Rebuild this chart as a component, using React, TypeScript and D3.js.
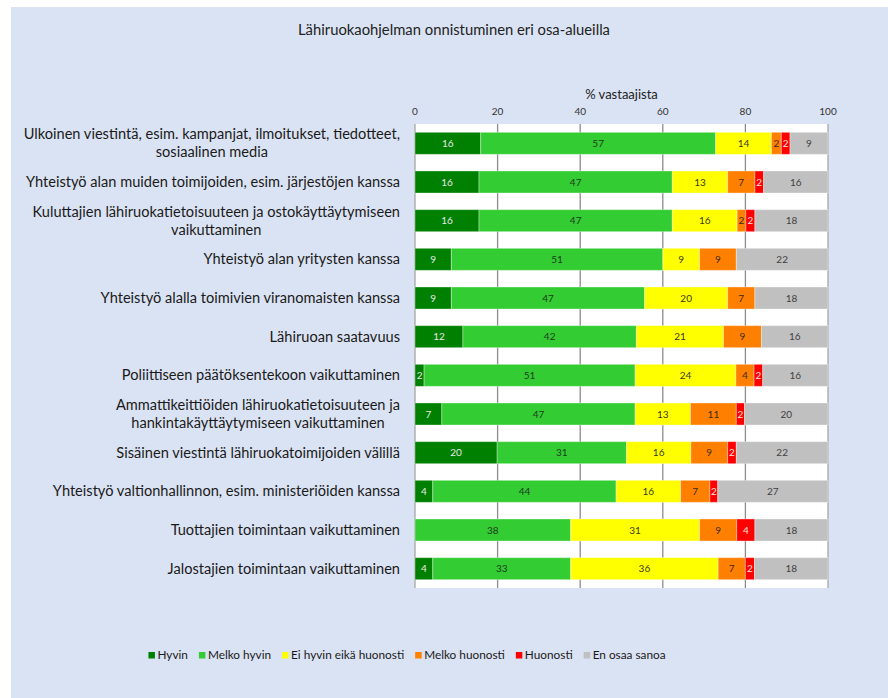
import { useEffect, useRef } from 'react';
import * as d3 from 'd3';

const WIDTH = 888;
const HEIGHT = 698;

const title = "Lähiruokaohjelman onnistuminen eri osa-alueilla";
const axisTitle = "% vastaajista";

const categories = [
  "Ulkoinen viestintä, esim. kampanjat, ilmoitukset, tiedotteet,\nsosiaalinen media",
  "Yhteistyö alan muiden toimijoiden, esim. järjestöjen kanssa",
  "Kuluttajien lähiruokatietoisuuteen ja ostokäyttäytymiseen\nvaikuttaminen",
  "Yhteistyö alan yritysten kanssa",
  "Yhteistyö alalla toimivien viranomaisten kanssa",
  "Lähiruoan saatavuus",
  "Poliittiseen päätöksentekoon vaikuttaminen",
  "Ammattikeittiöiden lähiruokatietoisuuteen ja\nhankintakäyttäytymiseen vaikuttaminen",
  "Sisäinen viestintä lähiruokatoimijoiden välillä",
  "Yhteistyö valtionhallinnon, esim. ministeriöiden kanssa",
  "Tuottajien toimintaan vaikuttaminen",
  "Jalostajien toimintaan vaikuttaminen",
];

const seriesNames = ["Hyvin", "Melko hyvin", "Ei hyvin eikä huonosti", "Melko huonosti", "Huonosti", "En osaa sanoa"];
const seriesColors = ["#008000", "#33cc33", "#ffff00", "#ff8000", "#ff0000", "#c0c0c0"];
const labelColors = ["#e8e8e8", "#1f3a1f", "#3a3a1a", "#3a2a1a", "#ffe0e0", "#404040"];

const hyvin = [15.9, 15.5, 15.5, 8.8, 8.8, 11.6, 2.2, 6.5, 19.9, 4.3, 0, 4.3];
const melkoHyvin = [56.9, 46.8, 46.8, 51.2, 46.8, 42.0, 51.1, 46.8, 31.3, 44.4, 37.7, 33.4];
const eiHyvinEikaHuonosti = [13.5, 13.4, 15.7, 8.9, 20.1, 21.1, 24.4, 13.4, 15.6, 15.6, 31.2, 35.7];
const melkoHuonosti = [2.4, 6.6, 2.1, 8.9, 6.6, 9.2, 4.4, 11.1, 8.9, 7.1, 9.0, 6.6];
const huonosti = [2.1, 2.1, 2.2, 0, 0, 0, 2.1, 2.0, 2.1, 1.9, 4.4, 2.2];
const enOsaaSanoa = [9.2, 15.6, 17.7, 22.2, 17.7, 16.1, 15.8, 20.2, 22.2, 26.7, 17.7, 17.8];

const xTicks = [0, 20, 40, 60, 80, 100];

const FONT = "Lato, 'Open Sans', sans-serif";

export default function App() {
  const ref = useRef<SVGSVGElement>(null);

  useEffect(() => {
    if (!ref.current) return;
    const svg = d3.select(ref.current);
    svg.selectAll("*").remove();

    const plot = { left: 415, right: 828, top: 124, bottom: 588 };

    // panel background
    svg.append("rect")
      .attr("x", 11).attr("y", 7)
      .attr("width", WIDTH - 11).attr("height", HEIGHT - 7)
      .attr("fill", "#dae3f3");

    svg.append("text")
      .attr("x", 454).attr("y", 35)
      .attr("text-anchor", "middle")
      .attr("font-family", FONT).attr("font-size", 14.8)
      .attr("fill", "#222")
      .text(title);

    const x = d3.scaleLinear().domain([0, 100]).range([plot.left, plot.right]);
    const y = d3.scaleBand<number>()
      .domain(d3.range(categories.length))
      .range([plot.top, plot.bottom])
      .paddingInner(0.43)
      .paddingOuter(0.215);

    // plot area
    svg.append("rect")
      .attr("x", plot.left).attr("y", plot.top)
      .attr("width", plot.right - plot.left).attr("height", plot.bottom - plot.top)
      .attr("fill", "#fff");

    svg.append("g")
      .selectAll("line")
      .data(xTicks)
      .join("line")
      .attr("x1", d => x(d)).attr("x2", d => x(d))
      .attr("y1", plot.top).attr("y2", plot.bottom)
      .attr("stroke", d => (d === 0 || d === 100 ? "#a6a6a6" : "#8c8c8c"))
      .attr("stroke-width", 1.3);

    svg.append("g")
      .selectAll("text")
      .data(xTicks)
      .join("text")
      .attr("x", d => x(d)).attr("y", 115)
      .attr("text-anchor", "middle")
      .attr("font-family", FONT).attr("font-size", 10)
      .attr("fill", "#333")
      .text(d => d);

    svg.append("text")
      .attr("x", (plot.left + plot.right) / 2).attr("y", 99)
      .attr("text-anchor", "middle")
      .attr("font-family", FONT).attr("font-size", 13)
      .attr("fill", "#222")
      .text(axisTitle);

    // stacked bars
    const series = [hyvin, melkoHyvin, eiHyvinEikaHuonosti, melkoHuonosti, huonosti, enOsaaSanoa];
    const table = categories.map((_, i) => ({
      s0: hyvin[i], s1: melkoHyvin[i], s2: eiHyvinEikaHuonosti[i],
      s3: melkoHuonosti[i], s4: huonosti[i], s5: enOsaaSanoa[i],
    }));
    const keys = ["s0", "s1", "s2", "s3", "s4", "s5"];
    const stacked = d3.stack<any>().keys(keys)(table);

    stacked.forEach((layer, si) => {
      const g = svg.append("g");
      const segs = layer
        .map((d, i) => ({ i, x0: d[0], x1: d[1], v: series[si][i] }))
        .filter(d => d.v > 0);
      g.selectAll("rect")
        .data(segs)
        .join("rect")
        .attr("x", d => x(d.x0)).attr("y", d => y(d.i)!)
        .attr("width", d => x(d.x1) - x(d.x0))
        .attr("height", y.bandwidth())
        .attr("fill", seriesColors[si])
        .attr("stroke", "#ffffff").attr("stroke-opacity", 0.35).attr("stroke-width", 1);
      g.selectAll("text")
        .data(segs)
        .join("text")
        .attr("x", d => (x(d.x0) + x(d.x1)) / 2)
        .attr("y", d => y(d.i)! + y.bandwidth() / 2)
        .attr("dy", "0.35em")
        .attr("text-anchor", "middle")
        .attr("font-family", FONT).attr("font-size", 10)
        .attr("fill", labelColors[si])
        .text(d => Math.round(d.v));
    });

    // category labels: block right-aligned, lines centred in block
    const labelRight = 400;
    const lineGap = 18;
    categories.forEach((c, i) => {
      const lines = c.split("\n");
      const cy = y(i)! + y.bandwidth() / 2;
      const texts = lines.map((line, li) =>
        svg.append("text")
          .attr("y", cy + (li - (lines.length - 1) / 2) * lineGap)
          .attr("dy", "0.35em")
          .attr("text-anchor", "middle")
          .attr("font-family", FONT).attr("font-size", 14.6)
          .attr("fill", "#1a1a1a")
          .text(line)
      );
      const widths = texts.map(t => (t.node() as SVGTextElement).getComputedTextLength());
      const w = d3.max(widths) ?? 0;
      texts.forEach(t => t.attr("x", labelRight - w / 2));
    });

    // legend
    const legendY = 655;
    const legend = svg.append("g");
    const items = seriesNames.map((name, i) => {
      const g = legend.append("g");
      g.append("rect")
        .attr("x", 0).attr("y", legendY - 3)
        .attr("width", 6.5).attr("height", 6.5)
        .attr("fill", seriesColors[i]);
      const t = g.append("text")
        .attr("x", 9).attr("y", legendY)
        .attr("dy", "0.35em")
        .attr("font-family", FONT).attr("font-size", 11.8)
        .attr("fill", "#1a1a1a")
        .text(name);
      const w = 9 + (t.node() as SVGTextElement).getComputedTextLength();
      return { g, w };
    });
    const gap = 11;
    const total = d3.sum(items, d => d.w) + gap * (items.length - 1);
    let cx = 407 - total / 2;
    items.forEach(it => {
      it.g.attr("transform", `translate(${cx},0)`);
      cx += it.w + gap;
    });
  }, []);

  return (
    <div style={{ position: "absolute", left: 0, top: 0 }}>
      <svg ref={ref} width={WIDTH} height={HEIGHT} style={{ display: "block" }} />
    </div>
  );
}
